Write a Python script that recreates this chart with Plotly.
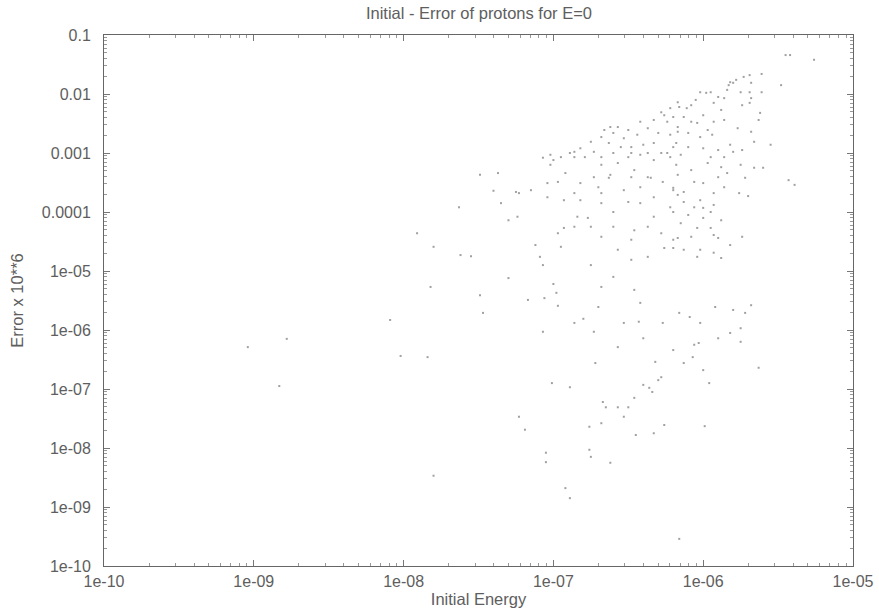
import numpy as np
import plotly.graph_objects as go

# Data, given as base-10 exponents
energy_exp = [
    -8.09, -9.04, -8.78, -8.83, -8.02, -7.84, -7.47, -7.80,
    -7.49, -7.37, -7.63, -7.91, -7.80, -7.62, -7.55, -7.82, -7.49, -7.30, -7.25, -7.23,
    -7.35, -7.40, -7.30, -7.24, -7.12, -7.09, -7.07, -7.00, -6.98, -6.97, -7.06, -7.17,
    -6.86, -6.80, -6.70, -6.73, -6.40, -6.60, -6.57, -6.48, -6.46, -6.42, -6.68, -6.75,
    -6.68, -6.60, -6.77, -6.86, -6.93, -6.82, -6.70, -6.63, -6.57, -6.46, -6.37, -6.33,
    -6.42, -6.48, -6.37, -6.33, -6.68, -6.86, -7.00, -7.04, -7.15, -6.97, -6.53, -6.43,
    -6.57,
    -7.07, -6.72, -6.27, -6.16, -6.09, -6.02, -5.92, -5.80, -5.72, -5.68, -5.75, -5.82,
    -5.90, -5.75, -6.06, -6.20, -6.13, -6.07, -6.03, -6.00, -5.96, -5.63, -6.32, -6.28,
    -6.30, -6.40, -6.36, -6.34, -6.46, -6.50, -6.57, -6.65, -6.67, -6.53, -6.68, -6.76,
    -6.45, -6.33, -6.26, -5.99, -6.89, -7.01, -7.23, -7.19, -6.76, -6.75, -6.62, -7.05,
    -7.05, -6.92, -6.89, -6.16,
    -6.17, -6.22, -6.28, -6.26, -6.33, -6.24, -6.17, -6.42, -6.37, -6.50, -6.62, -6.53,
    -6.44, -6.30, -6.22, -6.18, -6.33, -6.40, -6.48, -6.55, -6.63, -6.68, -6.75, -6.82,
    -6.86, -6.73, -6.60, -6.50, -6.42, -6.28, -6.22, -6.95, -7.02, -7.07, -6.60,
    -5.45, -5.42, -5.61, -5.69, -5.73, -5.48, -5.82, -5.80, -5.83, -5.78, -5.68, -5.84,
    -5.75, -5.69, -5.68, -5.69, -5.74, -5.61, -5.62, -5.63, -5.68, -5.77, -5.86, -5.90,
    -5.95, -5.98, -6.02, -5.93, -5.88, -5.86, -5.93, -6.00, -6.05, -6.08, -6.11, -6.16,
    -6.20, -6.13, -6.08, -6.04, -5.97, -5.94, -6.02, -6.10, -6.17, -6.20, -6.10, -6.00,
    -5.90, -5.82, -5.74, -5.66, -5.55, -5.95, -5.86,
    -6.24, -6.68, -6.79, -6.89, -7.02, -6.92, -6.73, -6.62, -6.48, -6.35, -6.27, -6.20,
    -6.42, -6.53, -6.68, -6.86, -6.97, -7.04, -6.82, -6.50, -6.68, -6.60, -6.84, -6.33,
    -6.22, -6.75, -6.93, -6.46, -6.28, -6.37, -6.48, -6.26, -6.20, -6.37, -6.95,
    -6.15, -5.80, -6.18, -6.08, -5.97, -5.88, -5.75, -5.66, -5.60, -6.17, -6.06, -6.00,
    -5.90, -5.84, -5.72, -5.86, -6.20, -6.13, -6.17, -5.93, -5.76, -5.70, -5.43, -5.39,
    -6.13, -6.02, -6.06, -6.00, -5.93, -6.20, -6.10, -5.95, -5.88, -6.00, -6.15, -6.04,
    -5.95, -5.93, -5.90, -6.08, -6.17, -5.74, -6.20, -6.13, -6.02, -5.93, -5.82, -5.88,
    -6.04,
    -5.26, -6.57, -6.66,
]

error_exp = [
    -5.83, -6.29, -6.15, -6.95, -6.44, -6.46, -5.71, -8.47,
    -3.37, -3.34, -3.92, -4.36, -4.59, -4.73, -4.75, -5.27, -5.41, -5.12, -3.66, -3.68,
    -3.85, -3.64, -4.14, -4.08, -4.56, -4.76, -4.90, -5.22, -5.37, -5.59, -5.46, -5.49,
    -5.88, -5.81, -5.61, -6.03, -6.14, -5.10, -4.64, -4.81, -5.32, -5.54, -5.27, -4.90,
    -4.42, -4.25, -4.10, -4.25, -3.80, -3.51, -3.58, -3.42, -3.17, -3.29, -3.41, -3.75,
    -3.85, -3.00, -3.00, -3.12, -3.07, -3.07, -3.12, -3.51, -3.63, -4.36, -5.88, -5.86,
    -6.29,
    -6.03, -6.56, -5.88, -5.71, -5.78, -5.88, -5.61, -5.66, -5.71, -5.58, -5.97, -6.05,
    -6.14, -6.20, -6.25, -6.34, -6.56, -6.46, -6.22, -6.68, -6.90, -6.64, -6.54, -6.80,
    -6.85, -6.93, -6.98, -7.05, -7.15, -7.31, -7.31, -7.31, -7.22, -7.47, -7.58, -7.64,
    -7.78, -7.75, -7.61, -7.63, -6.97, -6.90, -7.47, -7.69, -8.03, -8.15, -8.25, -8.08,
    -8.24, -8.68, -8.85, -9.54,
    -2.14, -2.24, -2.31, -2.36, -2.44, -2.47, -2.56, -2.47, -2.58, -2.61, -2.56, -2.75,
    -2.69, -2.66, -2.69, -2.83, -2.83, -2.86, -2.90, -2.90, -2.83, -2.73, -2.81, -2.92,
    -2.98, -2.98, -3.00, -3.07, -3.03, -3.00, -3.07, -3.07, -3.03, -3.08, -2.66,
    -1.34, -1.34, -1.66, -1.68, -1.71, -1.85, -1.80, -1.81, -1.85, -1.76, -1.81, -1.93,
    -1.97, -1.97, -2.07, -2.15, -2.19, -1.97, -2.32, -2.44, -2.64, -2.58, -2.07, -2.05,
    -1.97, -1.98, -1.97, -2.15, -2.27, -2.44, -2.47, -2.36, -2.10, -2.19, -2.24, -2.22,
    -2.39, -2.39, -2.47, -2.49, -2.61, -2.69, -2.73, -2.66, -2.64, -2.90, -2.90, -2.92,
    -2.95, -2.86, -2.95, -2.81, -2.86, -3.07, -3.07,
    -3.00, -3.20, -3.07, -3.00, -3.20, -3.34, -3.41, -3.37, -3.41, -3.42, -3.49, -3.63,
    -3.58, -3.63, -3.68, -3.68, -3.49, -3.75, -3.80, -3.83, -3.85, -4.00, -4.08, -4.08,
    -3.92, -4.25, -4.27, -4.31, -4.36, -4.25, -4.47, -4.61, -4.47, -4.76, -4.59,
    -3.03, -2.98, -3.20, -3.29, -3.17, -3.24, -3.20, -3.25, -3.25, -3.37, -3.49, -3.51,
    -3.41, -3.34, -3.42, -3.58, -3.59, -3.66, -3.71, -3.68, -3.68, -3.73, -3.46, -3.54,
    -3.83, -3.80, -3.92, -3.93, -3.88, -4.00, -4.05, -4.00, -4.14, -4.10, -4.19, -4.27,
    -4.27, -4.39, -4.44, -4.42, -4.44, -4.42, -4.61, -4.64, -4.64, -4.69, -4.56, -4.78,
    -4.76,
    -1.42, -2.56, -2.61,
]

x_tick_vals = [1e-10, 1e-09, 1e-08, 1e-07, 1e-06, 1e-05]
x_tick_text = ["1e-10", "1e-09", "1e-08", "1e-07", "1e-06", "1e-05"]
y_tick_vals = [1e-10, 1e-09, 1e-08, 1e-07, 1e-06, 1e-05, 1e-04, 1e-03, 1e-02, 1e-01]
y_tick_text = ["1e-10", "1e-09", "1e-08", "1e-07", "1e-06", "1e-05",
               "0.0001", "0.001", "0.01", "0.1"]

energy = 10.0 ** np.array(energy_exp)
error = 10.0 ** np.array(error_exp)


def minor_vals(lo, hi):
    out = []
    for d in range(lo, hi):
        for m in range(2, 10):
            out.append(m * 10.0 ** d)
    return out


FAMILY = "Liberation Sans, Arial, sans-serif"
TEXT_COLOR = "#5e5e5e"
tick_font = dict(family=FAMILY, size=16, color=TEXT_COLOR)
title_font = dict(family=FAMILY, size=16.5, color=TEXT_COLOR)

fig = go.Figure()
fig.add_trace(go.Scatter(
    x=energy, y=error, mode="markers",
    marker=dict(symbol="square", size=2, color="#a0a0a0", line=dict(width=0)),
    showlegend=False, hoverinfo="x+y",
))

fig.update_layout(
    width=879, height=614,
    margin=dict(l=104, r=26, t=35, b=48, autoexpand=False),
    paper_bgcolor="white", plot_bgcolor="white",
    title=dict(text="Initial - Error of protons for E=0", x=0.5449, xanchor="center",
               y=0.978, yanchor="middle",
               font=dict(family=FAMILY, size=16.5, color=TEXT_COLOR)),
    font=tick_font,
)

fig.update_xaxes(
    type="log", range=[-10, -5], automargin=False,
    tickmode="array", tickvals=x_tick_vals, ticktext=x_tick_text,
    ticks="inside", ticklen=6, tickcolor="#777777", tickwidth=1,
    minor=dict(tickmode="array", tickvals=minor_vals(-10, -5), ticks="inside",
               ticklen=3, tickcolor="#999999", showgrid=False),
    showline=True, linecolor="#666666", linewidth=1, mirror="ticks",
    showgrid=False, zeroline=False,
    tickfont=tick_font, ticklabelstandoff=1,
    title=dict(text="Initial Energy", font=title_font, standoff=4),
)
fig.update_yaxes(
    type="log", range=[-10, -1], automargin=False,
    tickmode="array", tickvals=y_tick_vals, ticktext=y_tick_text,
    ticks="inside", ticklen=6, tickcolor="#777777", tickwidth=1,
    minor=dict(tickmode="array", tickvals=minor_vals(-10, -1), ticks="inside",
               ticklen=3, tickcolor="#999999", showgrid=False),
    showline=True, linecolor="#666666", linewidth=1, mirror="ticks",
    showgrid=False, zeroline=False,
    tickfont=tick_font, ticklabelstandoff=9,
    title=dict(text="Error x 10**6", font=title_font, standoff=14),
)

fig.write_html("out.html")
